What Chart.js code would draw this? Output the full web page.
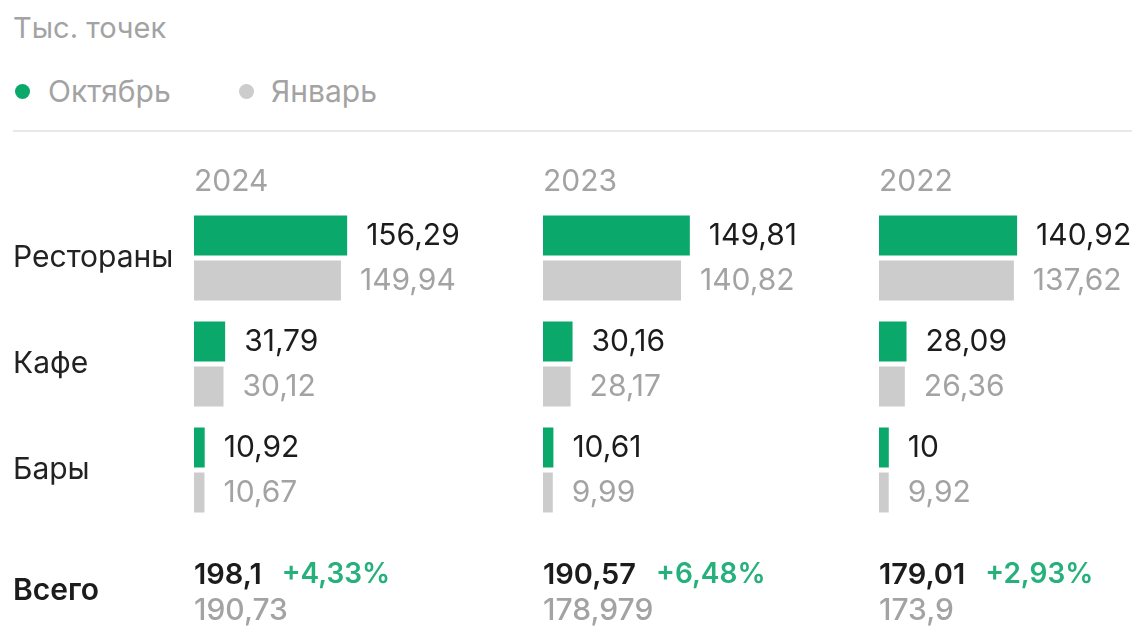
<!DOCTYPE html>
<html>
<head>
<meta charset="utf-8">
<script src="https://cdn.jsdelivr.net/npm/chart.js@4.4.1/dist/chart.umd.min.js"></script>
<style>
  html, body { margin: 0; padding: 0; background: #fff; }
  body { width: 1134px; height: 630px; position: relative; overflow: hidden; font-family: Inter, "Liberation Sans", sans-serif; }
  .hdr { position: absolute; color: #a3a3a3; font-size: 30px; line-height: 30px; white-space: nowrap; }
  .dot { position: absolute; width: 15px; height: 15px; border-radius: 50%; }
  .rule { position: absolute; left: 13px; top: 130px; width: 1119px; height: 2px; background: #e8e8e8; }
  canvas { position: absolute; top: 0; }
</style>
</head>
<body>
<div class="hdr" style="left:13px; top:13px; font-size:29px;">Тыс. точек</div>
<div class="dot" style="left:15px; top:84px; background:#0aa86b;"></div>
<div class="hdr" style="left:48px; top:76px;">Октябрь</div>
<div class="dot" style="left:239px; top:84px; background:#cccccc;"></div>
<div class="hdr" style="left:271px; top:76px;">Январь</div>
<div class="rule"></div>
<canvas id="c0" width="530" height="630" style="left:0px"></canvas>
<canvas id="c1" width="336" height="630" style="left:530px"></canvas>
<canvas id="c2" width="268" height="630" style="left:866px"></canvas>
<script>
const categories = ['Рестораны', 'Кафе', 'Бары'];
const years = ['2024', '2023', '2022'];
const seriesNames = ['Октябрь', 'Январь'];
const october2024 = [156.29, 31.79, 10.92];
const january2024 = [149.94, 30.12, 10.67];
const october2023 = [149.81, 30.16, 10.61];
const january2023 = [140.82, 28.17, 9.99];
const october2022 = [140.92, 28.09, 10];
const january2022 = [137.62, 26.36, 9.92];
const totalOctober = [198.1, 190.57, 179.01];
const totalJanuary = [190.73, 178.979, 173.9];
const growthPct = [4.33, 6.48, 2.93];
const totalLabel = 'Всего';

const GREEN = '#0aa86b';
const GRAY_BAR = '#cccccc';
const GRAY_TEXT = '#a3a3a3';
const DARK = '#1c1c1c';
const PCT_GREEN = '#25b07c';
const FONT = 'Inter, "Liberation Sans", sans-serif';

const fmt = v => String(v).replace('.', ',');

const labelPlugin = {
  id: 'valueLabels',
  afterDatasetsDraw(chart, args, opts) {
    const { ctx, chartArea } = chart;
    const p = opts.panel;
    ctx.save();
    ctx.textBaseline = 'middle';
    ctx.textAlign = 'left';
    // year
    ctx.font = `400 30px ${FONT}`;
    ctx.fillStyle = GRAY_TEXT;
    ctx.fillText(years[p], chartArea.left, 182);
    // bar values
    ctx.font = `400 30px ${FONT}`;
    chart.data.datasets.forEach((ds, di) => {
      const meta = chart.getDatasetMeta(di);
      meta.data.forEach((bar, i) => {
        ctx.fillStyle = di === 0 ? DARK : GRAY_TEXT;
        ctx.fillText(fmt(ds.data[i]), bar.x + 19, bar.y);
      });
    });
    // totals
    if (p === 0) {
      ctx.font = `600 30px ${FONT}`;
      ctx.fillStyle = DARK;
      ctx.fillText(totalLabel, 13, 591);
    }
    ctx.font = `600 29px ${FONT}`;
    ctx.fillStyle = DARK;
    const t = fmt(totalOctober[p]);
    ctx.fillText(t, chartArea.left, 575);
    const w = ctx.measureText(t).width;
    ctx.font = `600 28px ${FONT}`;
    ctx.fillStyle = PCT_GREEN;
    ctx.fillText('+' + fmt(growthPct[p]) + '%', chartArea.left + w + 20, 575);
    ctx.font = `500 30px ${FONT}`;
    ctx.fillStyle = GRAY_TEXT;
    ctx.fillText(fmt(totalJanuary[p]), chartArea.left, 611);
    ctx.restore();
  }
};

function makeChart(id, panel, oct, jan, showAxis, padRight) {
  return new Chart(document.getElementById(id), {
    type: 'bar',
    data: {
      labels: categories,
      datasets: [
        { label: seriesNames[0], data: oct, backgroundColor: GREEN, borderWidth: 0,
          categoryPercentage: 90 / 106, barPercentage: 40 / 45 },
        { label: seriesNames[1], data: jan, backgroundColor: GRAY_BAR, borderWidth: 0,
          categoryPercentage: 90 / 106, barPercentage: 40 / 45 }
      ]
    },
    options: {
      indexAxis: 'y',
      responsive: false,
      animation: false,
      devicePixelRatio: 1,
      layout: { padding: { left: 13, right: padRight, top: 205, bottom: 107 } },
      plugins: { legend: { display: false }, tooltip: { enabled: false }, valueLabels: { panel } },
      scales: {
        x: { display: false, min: 0, max: 200 },
        y: {
          display: showAxis,
          grid: { display: false },
          border: { display: false },
          ticks: { crossAlign: 'far', padding: 0, color: '#222', font: { family: FONT, size: 30 } },
          afterFit: s => { if (showAxis) s.width = 181; }
        }
      }
    },
    plugins: [labelPlugin]
  });
}

makeChart('c0', 0, october2024, january2024, true, 140);
makeChart('c1', 1, october2023, january2023, false, 127);
makeChart('c2', 2, october2022, january2022, false, 59);
</script>
</body>
</html>
